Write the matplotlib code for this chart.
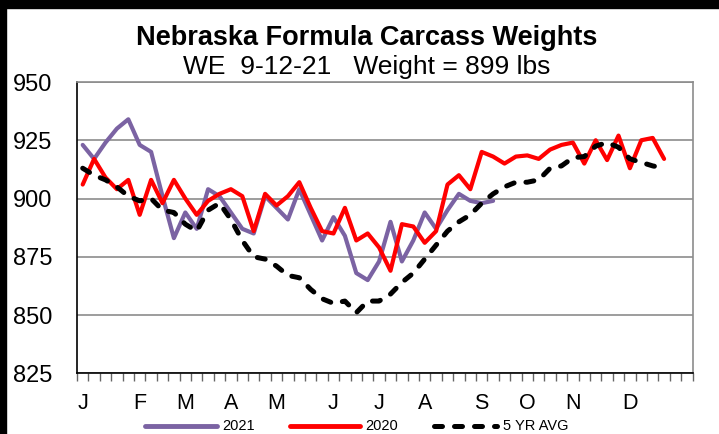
import matplotlib
matplotlib.use("Agg")
import matplotlib.pyplot as plt
from matplotlib.patches import Rectangle
from matplotlib.lines import Line2D

# ---- data ----
month_labels = ["J", "F", "M", "A", "M", "J", "J", "A", "S", "O", "N", "D"]
month_pos = [0, 5, 9, 13, 17, 22, 26, 30, 35, 39, 43, 48]
n_categories = 54

w2021 = [923, 917, 924, 930, 934, 923, 920, 901, 883, 894, 887, 904, 901,
         894, 887, 885, 901, 896, 891, 904, 893, 882, 892, 884, 868, 865,
         873, 890, 873, 882, 894, 887, 895, 902, 899, 898, 899]
w2020 = [906, 917, 909, 904, 908, 893, 908, 898, 908, 900, 893, 899, 902,
         904, 901, 886, 902, 897, 901, 907, 896, 886, 885, 896, 882, 885,
         879, 869, 889, 888, 881, 886, 906, 910, 904, 920, 918, 915, 918,
         918.5, 917, 921, 923, 924, 915, 925, 916.5, 927, 913, 925, 926, 917]
w5yr = [913, 910, 908, 905, 901, 899, 900, 895, 894, 889, 886, 895, 898,
        891, 882, 875, 874, 871, 867, 866, 861, 857, 855, 856, 851, 856,
        856, 859, 864, 868, 874, 880, 886, 890, 893, 898, 902, 905, 907,
        907, 908, 913, 914, 917.5, 918, 922.5, 924, 922, 917, 915.5, 914, 913]
y_ticks = [825, 850, 875, 900, 925, 950]

title = "Nebraska Formula Carcass Weights"
subtitle = "WE  9-12-21   Weight = 899 lbs"
legend_labels = ["2021", "2020", "5 YR AVG"]

REG = ["Liberation Sans", "DejaVu Sans"]
W, H = 719, 434

fig = plt.figure(figsize=(7.19, 4.34), dpi=100)
fig.patch.set_facecolor("white")
# black border bands
fig.patches.append(Rectangle((0, 1 - 8 / H), 1, 8 / H, transform=fig.transFigure,
                             color="black", zorder=0))
fig.patches.append(Rectangle((0, 0), 6 / W, 1, transform=fig.transFigure,
                             color="black", zorder=0))

ax = fig.add_axes([77 / W, 1 - 373.3 / H, (692.6 - 77) / W, (373.3 - 82) / H])

purple = "#7B63A3"
red = "#FF0000"
dash = (0, (1.6, 2.4))
ax.plot(range(len(w2021)), w2021, color=purple, lw=3.0, solid_joinstyle="round",
        solid_capstyle="round", zorder=3)
ax.plot(range(len(w2020)), w2020, color=red, lw=3.0, solid_joinstyle="round",
        solid_capstyle="round", zorder=4)
ax.plot(range(len(w5yr)), w5yr, color="black", lw=3.6, linestyle=dash,
        dash_capstyle="round", zorder=5)

ax.set_xlim(-0.5, n_categories - 0.5)
ax.set_ylim(825, 950)
ax.set_yticks(y_ticks)
ax.set_yticklabels([str(v) for v in y_ticks], fontfamily=REG, fontsize=17)
ax.tick_params(axis="y", length=0, pad=18)
ax.yaxis.grid(True, color="#8C8C8C", lw=1.2)
ax.set_axisbelow(True)

ax.set_xticks(month_pos)
ax.set_xticklabels(month_labels, fontfamily=REG, fontsize=15.5)
ax.tick_params(axis="x", which="major", length=0, pad=14)
ax.set_xticks([i - 0.5 for i in range(n_categories + 1)], minor=True)
ax.tick_params(axis="x", which="minor", length=6, width=1, color="#666666", direction="out")

for s in ["left", "bottom"]:
    ax.spines[s].set_color("black")
    ax.spines[s].set_linewidth(1.2)
for s in ["top", "right"]:
    ax.spines[s].set_color("#8C8C8C")
    ax.spines[s].set_linewidth(1.2)

fig.text(367 / W, 1 - 38 / H, title, ha="center", va="center", fontsize=19.5,
         fontweight="bold", fontfamily=REG)
fig.text(367 / W, 1 - 67 / H, subtitle, ha="center", va="center", fontsize=19,
         fontfamily=REG)

# manual legend
ly = 1 - 426 / H
legend_items = [
    (145, 217, 222, dict(color=purple, lw=3.5, solid_capstyle="round")),
    (290, 360, 365, dict(color=red, lw=3.5, solid_capstyle="round")),
    (434, 497, 503, dict(color="black", lw=3.6, linestyle=dash, dash_capstyle="round")),
]
for (x0, x1, xt, style), lab in zip(legend_items, legend_labels):
    fig.add_artist(Line2D([x0 / W, x1 / W], [ly, ly], transform=fig.transFigure, **style))
    fig.text(xt / W, ly, lab, ha="left", va="center", fontsize=10.5, fontfamily=REG)

fig.savefig("out.png", dpi=100, facecolor="white")
